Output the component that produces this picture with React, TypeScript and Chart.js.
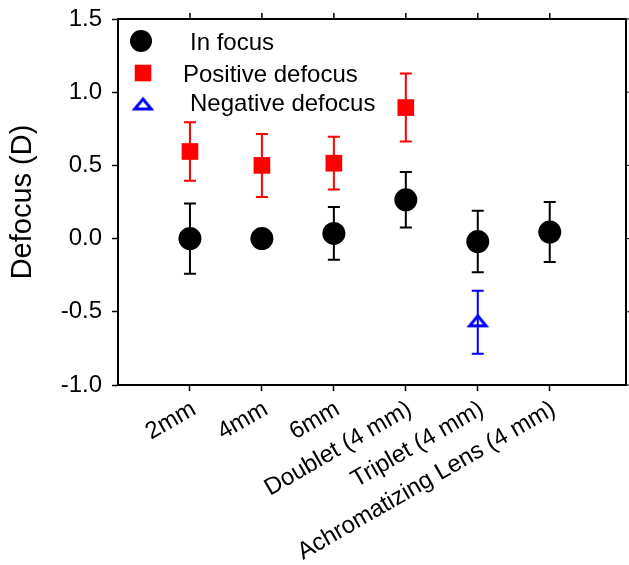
import React, { useEffect, useRef } from 'react';
import { Chart, registerables } from 'chart.js';

Chart.register(...registerables);

const categories = ['2mm', '4mm', '6mm', 'Doublet (4 mm)', 'Triplet (4 mm)', 'Achromatizing Lens (4 mm)'];
const yTickValues = [-1.0, -0.5, 0.0, 0.5, 1.0, 1.5];

const inFocusCats = ['2mm', '4mm', '6mm', 'Doublet (4 mm)', 'Triplet (4 mm)', 'Achromatizing Lens (4 mm)'];
const inFocusValues = [0.0, 0.0, 0.035, 0.265, -0.02, 0.045];
const inFocusErrors = [0.24, 0, 0.18, 0.19, 0.21, 0.205];

const positiveCats = ['2mm', '4mm', '6mm', 'Doublet (4 mm)'];
const positiveValues = [0.595, 0.5, 0.515, 0.895];
const positiveErrors = [0.2, 0.215, 0.18, 0.232];

const negativeCats = ['Triplet (4 mm)'];
const negativeValues = [-0.572];
const negativeErrors = [0.215];

const legendLabels = ['In focus', 'Positive defocus', 'Negative defocus'];

const FONT = "'Liberation Sans', Arial, sans-serif";

function makeTriangle(): HTMLCanvasElement {
  const c = document.createElement('canvas');
  c.width = 24;
  c.height = 24;
  const g = c.getContext('2d')!;
  g.strokeStyle = '#0000ff';
  g.lineWidth = 3;
  g.lineJoin = 'miter';
  g.beginPath();
  g.moveTo(12, 5.5);
  g.lineTo(20.2, 15.5);
  g.lineTo(3.8, 15.5);
  g.closePath();
  g.stroke();
  return c;
}

const toXY = (cats: string[], vals: number[]) =>
  cats.map((c, i) => ({ x: categories.indexOf(c) + 1, y: vals[i] }));

export default function App() {
  const ref = useRef<HTMLCanvasElement>(null);
  useEffect(() => {
    const tri = makeTriangle();
    const errorBars = {
      id: 'errorBars',
      beforeDatasetsDraw(chart: any) {
        const ctx = chart.ctx;
        const ys = chart.scales.y;
        chart.data.datasets.forEach((ds: any, i: number) => {
          const meta = chart.getDatasetMeta(i);
          ctx.save();
          ctx.strokeStyle = ds.errColor;
          ctx.lineWidth = 2;
          meta.data.forEach((pt: any, j: number) => {
            const e = ds.errors[j];
            if (!e) return;
            const v = ds.data[j].y;
            const x = pt.x;
            const yt = ys.getPixelForValue(v + e);
            const yb = ys.getPixelForValue(v - e);
            ctx.beginPath();
            ctx.moveTo(x, yt);
            ctx.lineTo(x, yb);
            ctx.moveTo(x - 6, yt);
            ctx.lineTo(x + 6, yt);
            ctx.moveTo(x - 6, yb);
            ctx.lineTo(x + 6, yb);
            ctx.stroke();
          });
          ctx.restore();
        });
      },
    };
    const frame = {
      id: 'frame',
      afterDraw(chart: any) {
        const ctx = chart.ctx;
        const a = chart.chartArea;
        ctx.save();
        ctx.strokeStyle = '#000';
        ctx.lineWidth = 2;
        ctx.strokeRect(a.left, a.top, a.right - a.left, a.bottom - a.top);
        ctx.lineWidth = 1.5;
        const xs = chart.scales.x;
        ctx.beginPath();
        for (let i = 1; i <= categories.length; i++) {
          const px = xs.getPixelForValue(i);
          ctx.moveTo(px, a.top);
          ctx.lineTo(px, a.top - 6);
        }
        ctx.stroke();
        ctx.lineWidth = 1;
        const ys = chart.scales.y;
        ctx.beginPath();
        yTickValues.forEach((v) => {
          const py = ys.getPixelForValue(v);
          ctx.moveTo(a.right, py);
          ctx.lineTo(a.right + 3, py);
        });
        ctx.stroke();
        // legend
        ctx.fillStyle = '#000';
        ctx.beginPath();
        ctx.arc(141, 41, 11, 0, Math.PI * 2);
        ctx.fill();
        ctx.fillStyle = '#ff0000';
        ctx.fillRect(143 - 8.3, 73 - 8.3, 16.6, 16.6);
        ctx.drawImage(tri, 143 - 12, 105.5 - 12);
        ctx.fillStyle = '#000';
        ctx.font = `24px ${FONT}`;
        ctx.textBaseline = 'alphabetic';
        ctx.textAlign = 'left';
        ctx.fillText(legendLabels[0], 190, 49.5);
        ctx.fillText(legendLabels[1], 183, 82);
        ctx.fillText(legendLabels[2], 190, 110.5);
        ctx.restore();
      },
    };
    const chart = new Chart(ref.current!, {
      type: 'scatter',
      data: {
        datasets: [
          {
            label: legendLabels[0],
            data: toXY(inFocusCats, inFocusValues),
            errors: inFocusErrors,
            errColor: '#000000',
            pointStyle: 'circle',
            pointRadius: 11.5,
            backgroundColor: '#000000',
            borderColor: '#000000',
            borderWidth: 0,
          } as any,
          {
            label: legendLabels[1],
            data: toXY(positiveCats, positiveValues),
            errors: positiveErrors,
            errColor: '#ff0000',
            pointStyle: 'rect',
            pointRadius: 11.8,
            backgroundColor: '#ff0000',
            borderColor: '#ff0000',
            borderWidth: 0,
          } as any,
          {
            label: legendLabels[2],
            data: toXY(negativeCats, negativeValues),
            errors: negativeErrors,
            errColor: '#0000ff',
            pointStyle: tri,
            pointRadius: 12,
            backgroundColor: 'rgba(0,0,0,0)',
            borderColor: '#0000ff',
          } as any,
        ],
      },
      options: {
        animation: false,
        responsive: false,
        events: [],
        layout: { autoPadding: false, padding: { left: 0, top: 19, right: 3, bottom: 0 } },
        plugins: { legend: { display: false }, tooltip: { enabled: false } },
        scales: {
          x: {
            type: 'linear',
            min: 0,
            max: 7.06,
            afterBuildTicks: (s: any) => {
              s.ticks = categories.map((_, i) => ({ value: i + 1 }));
            },
            afterFit: (s: any) => {
              s.height = 180;
              s.paddingLeft = 0;
              s.paddingRight = 0;
              s.paddingTop = 0;
              s.paddingBottom = 0;
            },
            border: { display: false },
            grid: { drawOnChartArea: false, drawTicks: true, tickLength: 6, tickColor: '#000', tickWidth: 1.5 },
            ticks: {
              autoSkip: false,
              minRotation: 30,
              maxRotation: 30,
              padding: 4,
              labelOffset: 4,
              color: '#000',
              font: { family: FONT, size: 24 },
              callback: (v: any) => categories[Number(v) - 1] ?? '',
            },
          },
          y: {
            type: 'linear',
            min: -1.0,
            max: 1.5,
            afterBuildTicks: (s: any) => {
              s.ticks = yTickValues.map((v) => ({ value: v }));
            },
            afterFit: (s: any) => {
              s.width = 118;
              s.paddingLeft = 0;
              s.paddingRight = 0;
              s.paddingTop = 0;
              s.paddingBottom = 0;
            },
            border: { display: false },
            grid: { drawOnChartArea: false, drawTicks: true, tickLength: 6, tickColor: '#000', tickWidth: 1.5 },
            ticks: {
              padding: 10,
              color: '#000',
              font: { family: FONT, size: 24 },
              callback: (v: any) => Number(v).toFixed(1),
            },
            title: {
              display: true,
              text: 'Defocus (D)',
              color: '#000',
              font: { family: FONT, size: 29 },
              padding: { top: 6, bottom: 0 },
            },
          },
        },
      },
      plugins: [errorBars, frame],
    });
    return () => chart.destroy();
  }, []);
  return (
    <div style={{ position: 'absolute', left: 0, top: 0, width: 629, height: 565 }}>
      <canvas ref={ref} width={629} height={565} />
    </div>
  );
}
